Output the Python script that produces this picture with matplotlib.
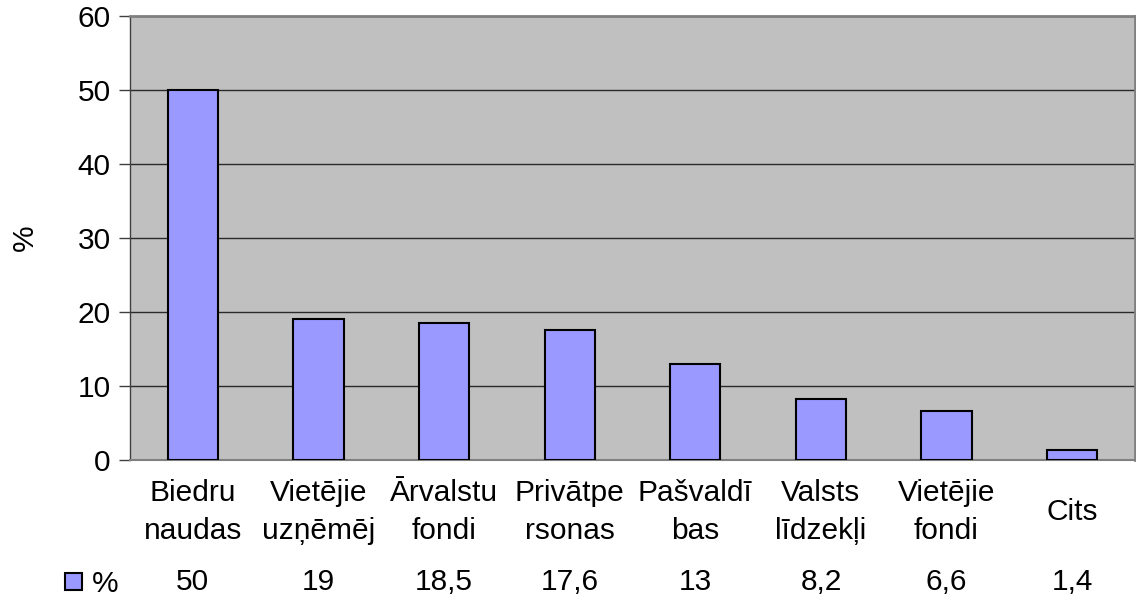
import matplotlib.pyplot as plt
import matplotlib.transforms as mtransforms
from matplotlib.patches import Rectangle

plt.rcParams['font.family'] = ['Liberation Sans', 'DejaVu Sans']

# dati
kategorijas = ["Biedru\nnaudas", "Vietējie\nuzņēmēj", "Ārvalstu\nfondi", "Privātpe\nrsonas",
               "Pašvaldī\nbas", "Valsts\nlīdzekļi", "Vietējie\nfondi", "Cits"]
vertibas = [50, 19, 18.5, 17.6, 13, 8.2, 6.6, 1.4]
vertibu_teksts = ["50", "19", "18,5", "17,6", "13", "8,2", "6,6", "1,4"]
serija = "%"

fs = 21.5

fig = plt.figure(figsize=(11.36, 6), dpi=100)
ax = fig.add_axes([130/1136, 140/600, 1005/1136, 444/600])
ax.set_facecolor('#C0C0C0')

x = list(range(len(vertibas)))
ax.bar(x, vertibas, width=0.4, color='#9999FF', edgecolor='black', linewidth=1.5, zorder=3)

ax.set_xlim(-0.5, len(vertibas) - 0.5)
ax.set_ylim(0, 60)
ax.set_yticks(range(0, 61, 10))
ax.tick_params(axis='y', labelsize=fs, length=8, width=1, color='#404040', pad=6)
ax.tick_params(axis='x', bottom=False, labelbottom=False)
ax.yaxis.grid(True, color='#2a2a2a', linewidth=1, zorder=1)

for s in ['top', 'right']:
    ax.spines[s].set_color('#808080')
    ax.spines[s].set_linewidth(2)
ax.spines['bottom'].set_color('#808080')
ax.spines['bottom'].set_linewidth(1.5)
ax.spines['left'].set_color('#404040')
ax.spines['left'].set_linewidth(1)

fig.text(25/1136, 1 - 238/600, "%", rotation=90, fontsize=fs, ha='center', va='center')

# kategoriju nosaukumi un datu tabula
tr = mtransforms.blended_transform_factory(ax.transData, fig.transFigure)
for xi, lab, val in zip(x, kategorijas, vertibu_teksts):
    ax.text(xi, 1 - 512/600, lab, transform=tr, ha='center', va='center',
            fontsize=fs, linespacing=1.42, clip_on=False)
    ax.text(xi, 1 - 582/600, val, transform=tr, ha='center', va='center',
            fontsize=fs, clip_on=False)

fig.patches.append(Rectangle((65/1136, 1 - 590/600), 17/1136, 17/600, transform=fig.transFigure,
                             facecolor='#9999FF', edgecolor='black', linewidth=1.5))
fig.text(92/1136, 1 - 584/600, serija, fontsize=fs, ha='left', va='center')

fig.savefig('out.png', dpi=100, facecolor='white')
